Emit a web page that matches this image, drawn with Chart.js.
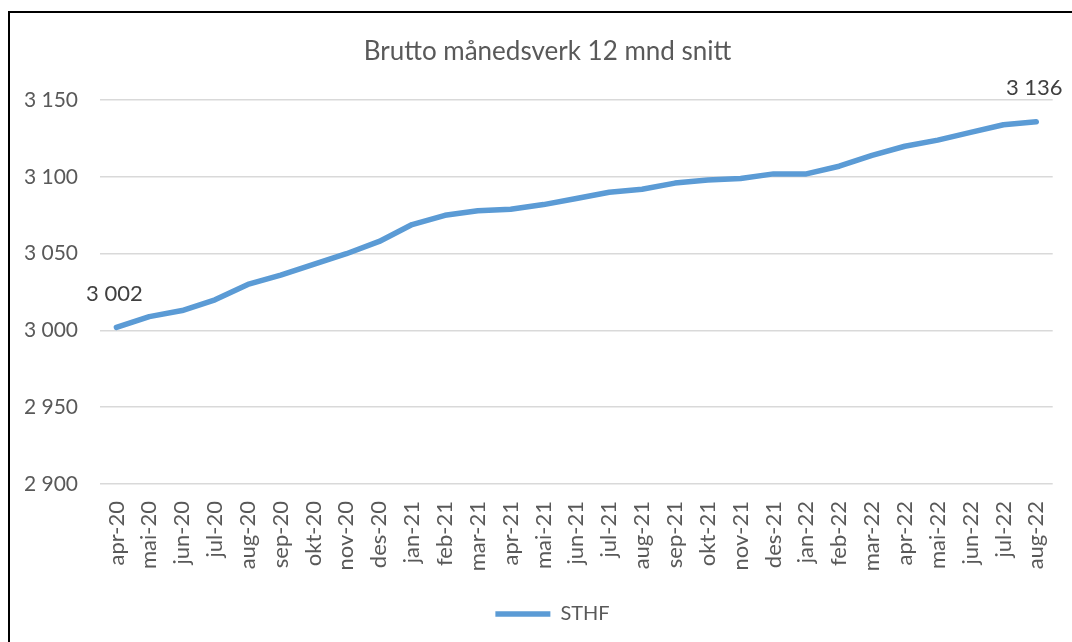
<!DOCTYPE html>
<html>
<head>
<meta charset="utf-8">
<script src="https://cdn.jsdelivr.net/npm/chart.js@4.4.1/dist/chart.umd.min.js"></script>
<style>
  html, body { margin: 0; padding: 0; background: #fff; overflow: hidden; }
  #wrap { position: relative; width: 1072px; height: 642px; }
  #frame { position: absolute; left: 8px; top: 11px; width: 1100px; height: 700px; border: 2px solid #000; box-sizing: border-box; }
  canvas { position: absolute; left: 0; top: 0; }
</style>
</head>
<body>
<div id="wrap">
  <div id="frame"></div>
  <canvas id="chart" width="1072" height="642"></canvas>
</div>
<script>
  // data
  var months = ['apr-20', 'mai-20', 'jun-20', 'jul-20', 'aug-20', 'sep-20', 'okt-20', 'nov-20', 'des-20',
                'jan-21', 'feb-21', 'mar-21', 'apr-21', 'mai-21', 'jun-21', 'jul-21', 'aug-21', 'sep-21',
                'okt-21', 'nov-21', 'des-21', 'jan-22', 'feb-22', 'mar-22', 'apr-22', 'mai-22', 'jun-22',
                'jul-22', 'aug-22'];
  var sthf = [3002, 3009, 3013, 3020, 3030, 3036, 3043, 3050, 3058,
              3069, 3075, 3078, 3079, 3082, 3086, 3090, 3092, 3096,
              3098, 3099, 3102, 3102, 3107, 3114, 3120, 3124, 3129,
              3134, 3136];
  var yTicks = [2900, 2950, 3000, 3050, 3100, 3150];

  var fontFamily = 'Lato, "Open Sans", sans-serif';
  var textGrey = '#595959';

  function spaced(v) {
    return String(Math.round(v)).replace(/\B(?=(\d{3})+(?!\d))/g, ' ');
  }

  // labels on first and last point only, like the excel chart
  var endLabels = {
    id: 'endLabels',
    afterDatasetsDraw: function(chart) {
      var meta = chart.getDatasetMeta(0);
      var ctx = chart.ctx;
      var ids = [0, sthf.length - 1];
      ctx.save();
      ctx.font = '22px ' + fontFamily;
      ctx.fillStyle = '#404040';
      ctx.textAlign = 'center';
      ctx.textBaseline = 'middle';
      ids.forEach(function(i) {
        var pt = meta.data[i];
        ctx.fillText(spaced(sthf[i]), pt.x - 2, pt.y - 34);
      });
      ctx.restore();
    }
  };

  // the excel frame is wider than the picture, so title and legend sit a bit right of centre
  var shiftBlocks = {
    id: 'shiftBlocks',
    afterLayout: function(chart) {
      if (chart.titleBlock) { chart.titleBlock.left += 21; chart.titleBlock.right += 21; }
      if (chart.legend) { chart.legend.left += 26; chart.legend.right += 26; }
    }
  };

  var ctx = document.getElementById('chart').getContext('2d');
  var chart = new Chart(ctx, {
    type: 'line',
    data: {
      labels: months,
      datasets: [{
        label: 'STHF',
        data: sthf,
        borderColor: '#5B9BD5',
        backgroundColor: '#5B9BD5',
        borderWidth: 5.5,
        borderCapStyle: 'round',
        borderJoinStyle: 'round',
        pointRadius: 0,
        tension: 0
      }]
    },
    options: {
      responsive: false,
      animation: false,
      devicePixelRatio: 1,
      layout: { padding: { left: 0, right: 19, top: 0, bottom: 8 } },
      scales: {
        x: {
          offset: true,
          grid: { display: false },
          border: { display: false },
          ticks: {
            minRotation: 90,
            maxRotation: 90,
            autoSkip: false,
            padding: 9,
            color: textGrey,
            font: { family: fontFamily, size: 22 }
          },
          afterFit: function(scale) { scale.height = 110; }
        },
        y: {
          min: yTicks[0],
          max: yTicks[yTicks.length - 1],
          afterBuildTicks: function(scale) {
            scale.ticks = yTicks.map(function(v) { return { value: v }; });
          },
          grid: { color: '#d9d9d9', lineWidth: 1.5, drawTicks: false },
          border: { display: false },
          ticks: {
            padding: 22,
            color: textGrey,
            font: { family: fontFamily, size: 21 },
            callback: function(v) { return spaced(v); }
          },
          afterFit: function(scale) { scale.width = 100; }
        }
      },
      plugins: {
        title: {
          display: true,
          text: 'Brutto månedsverk 12 mnd snitt',
          color: textGrey,
          font: { family: fontFamily, size: 26, weight: 'normal' },
          padding: { top: 36, bottom: 33 }
        },
        legend: {
          position: 'bottom',
          labels: {
            usePointStyle: true,
            pointStyle: 'line',
            pointStyleWidth: 55,
            color: textGrey,
            font: { family: fontFamily, size: 20 },
            padding: 10
          }
        },
        tooltip: { enabled: false }
      }
    },
    plugins: [endLabels, shiftBlocks]
  });
</script>
</body>
</html>
